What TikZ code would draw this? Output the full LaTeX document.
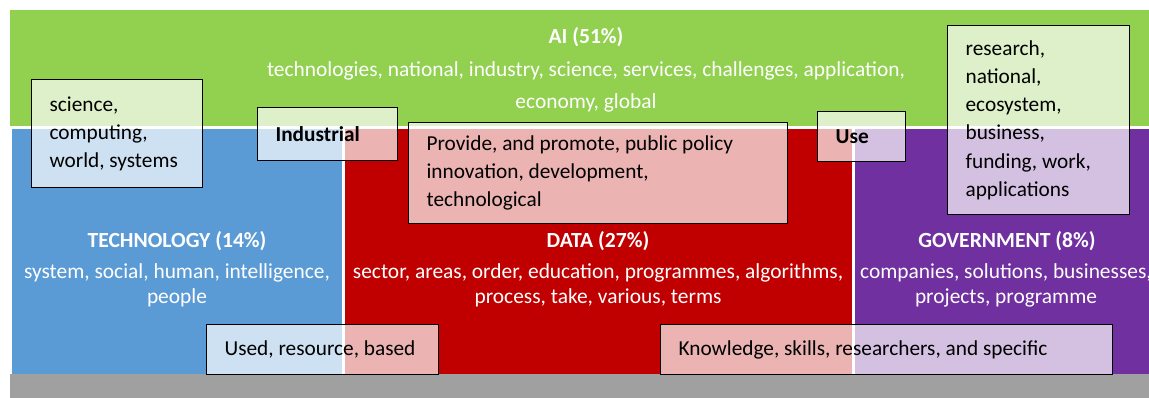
\documentclass[tikz,border=0pt]{standalone}
\usepackage{fontspec}
\setmainfont{Carlito}
\usetikzlibrary{positioning}
\definecolor{aigreen}{HTML}{92D050}
\definecolor{techblue}{HTML}{5B9BD5}
\definecolor{datared}{HTML}{C00000}
\definecolor{govpurple}{HTML}{7030A0}
\definecolor{basegray}{HTML}{A0A0A0}
\tikzset{
 bandtitle/.style={text=white, inner sep=0pt,
   font=\fontsize{21.6}{25}\selectfont\bfseries},
 bandwords/.style={text=white, inner sep=0pt, align=center,
   font=\fontsize{21.4}{#1}\selectfont\frenchspacing},
 bandwords/.default=25,
 wordbox/.style={draw=black, line width=1.2pt, fill=white, fill opacity=0.7,
   text opacity=1, text=black, anchor=north west, align=flush left,
   inner xsep=18pt, inner ysep=0pt,
   font=\fontsize{21.3}{28.2}\selectfont\frenchspacing}
}

\begin{document}
\begin{tikzpicture}[x=1pt, y=-1pt]

\useasboundingbox (0,0) rectangle (1149,398);

% coloured bands
\foreach \xa/\ya/\xb/\yb/\c in
  {10/10/1149/126.5/aigreen, 12/129/342/374/techblue,
   345/129/852/374/datared, 855/129/1149/374/govpurple,
   10/374/1149/398/basegray}
\fill [\c] (\xa,\ya) rectangle (\xb,\yb);

% band labels
\node [bandtitle] (ai-title) at (586,37) {AI (51\%)};
\node [bandwords=32] (ai-words) at (586,87)
  {technologies, national, industry, science, services, challenges, application,\\
   economy, global};

\node [bandtitle] (tech-title) at (177,241) {TECHNOLOGY (14\%)};
\node [bandwords] (tech-words) at (177,285.5)
  {system, social, human, intelligence,\\ people};

\node [bandtitle] (data-title) at (598,241) {DATA (27\%)};
\node [bandwords] (data-words) at (598,285.5)
  {sector, areas, order, education, programmes, algorithms,\\
   process, take, various, terms};

\node [bandtitle] (gov-title) at (1007,241) {GOVERNMENT (8\%)};
\node [bandwords] (gov-words) at (1006,285.5)
  {companies, solutions, businesses,\\ projects, programme};

% overlapping term boxes
\node [wordbox, text width=135pt, minimum height=108pt] (tech-ai) at (31,79)
  {science,\\ computing,\\ world, systems};
\node [wordbox, text width=104pt, minimum height=53pt,
  font=\fontsize{21.3}{28}\selectfont\bfseries] (industrial) at (257,107)
  {Industrial};
\node [wordbox, text width=343pt, minimum height=101pt] (data-ai) at (408,122)
  {Provide, and promote, public policy\\ innovation, development,\\ technological};
\node [wordbox, text width=52pt, minimum height=50pt,
  font=\fontsize{21.3}{28}\selectfont\bfseries] (use) at (817,111)
  {Use};
\node [wordbox, text width=146pt, minimum height=189pt] (gov-ai) at (947,25)
  {research,\\ national,\\ ecosystem,\\ business,\\ funding, work,\\ applications};
\node [wordbox, text width=196pt, minimum height=50pt] (tech-data) at (206,324)
  {Used, resource, based};
\node [wordbox, text width=416pt, minimum height=50pt] (data-gov) at (660,324)
  {Knowledge, skills, researchers, and specific};

\end{tikzpicture}
\end{document}
